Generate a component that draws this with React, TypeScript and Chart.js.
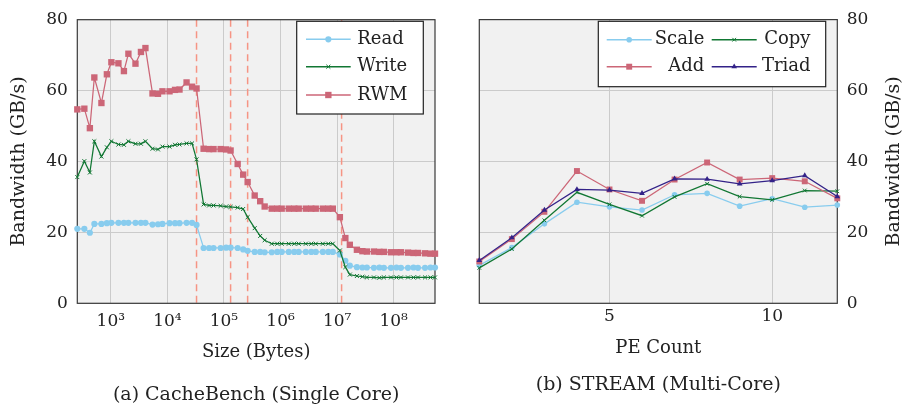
import React, { useEffect, useRef } from 'react';
import { Chart, registerables } from 'chart.js';

Chart.register(...registerables);

const FONT = "'DejaVu Serif', 'Liberation Serif', serif";
Chart.defaults.font.family = FONT;
Chart.defaults.color = '#222';

// ---------- (a) CacheBench data ----------
const sizes = [
  256, 341, 427, 512, 683, 853, 1024, 1365, 1707, 2048, 2731, 3413,
  4096, 5461, 6827, 8192, 10923, 13653, 16384, 21845, 27307, 32768, 43691, 54613,
  65536, 87381, 109227, 131072, 174763, 218453, 262144, 349525, 436907, 524288, 699051, 873813,
  1048576, 1398101, 1747627, 2097152, 2796203, 3495253, 4194304, 5592405, 6990507,
  8388608, 11184811, 13981013, 16777216, 22369621, 27962027, 33554432, 44739243, 55924053,
  67108864, 89478485, 111848107, 134217728, 178956971, 223696213, 268435456, 357913941, 447392427,
  536870912,
];
const readBW = [
  21.0, 21.0, 19.9, 22.4, 22.4, 22.6, 22.7, 22.7, 22.7, 22.7, 22.7, 22.7,
  22.7, 22.2, 22.3, 22.4, 22.6, 22.6, 22.6, 22.7, 22.7, 22.1, 15.6, 15.6,
  15.6, 15.6, 15.7, 15.7, 15.6, 15.2, 14.8, 14.5, 14.5, 14.4, 14.4, 14.5,
  14.5, 14.5, 14.5, 14.5, 14.5, 14.5, 14.5, 14.5, 14.5,
  14.5, 13.8, 12.0, 10.6, 10.2, 10.1, 10.1, 10.0, 10.1,
  10.0, 10.0, 10.1, 10.0, 10.0, 10.1, 10.0, 10.0, 10.1,
  10.1,
];
const writeBW = [
  35.6, 40.1, 36.9, 45.7, 41.4, 44.0, 45.7, 44.8, 44.7, 45.7, 45.0, 45.0,
  45.7, 43.6, 43.4, 44.2, 44.2, 44.7, 44.8, 45.1, 45.1, 40.6, 27.9, 27.6,
  27.6, 27.5, 27.3, 27.2, 27.0, 26.6, 24.3, 21.2, 19.0, 17.8, 16.8, 16.8,
  16.8, 16.8, 16.8, 16.8, 16.8, 16.8, 16.8, 16.8, 16.8,
  16.8, 14.9, 10.2, 8.1, 7.7, 7.5, 7.3, 7.3, 7.2,
  7.3, 7.3, 7.3, 7.3, 7.3, 7.3, 7.3, 7.3, 7.3,
  7.3,
];
const rwmBW = [
  54.7, 54.9, 49.4, 63.7, 56.5, 64.6, 68.0, 67.7, 65.5, 70.4, 67.6, 70.9,
  72.0, 59.2, 59.1, 59.8, 59.8, 60.2, 60.3, 62.3, 61.1, 60.6, 43.6, 43.5,
  43.5, 43.5, 43.4, 43.1, 39.3, 36.3, 34.2, 30.4, 28.8, 27.3, 26.7, 26.7,
  26.7, 26.7, 26.7, 26.7, 26.7, 26.7, 26.7, 26.7, 26.7,
  26.7, 24.3, 18.4, 16.5, 15.1, 14.7, 14.6, 14.6, 14.5,
  14.5, 14.4, 14.4, 14.4, 14.3, 14.2, 14.2, 14.1, 14.0,
  14.0,
];
const cacheBoundaries = [32768, 131072, 262144, 12000000];
const sizeTickValues = [1e3, 1e4, 1e5, 1e6, 1e7, 1e8];
const sizeTickLabels = ['10³', '10⁴', '10⁵', '10⁶', '10⁷', '10⁸'];
const bwTickValues = [0, 20, 40, 60, 80];

// ---------- (b) STREAM data ----------
const peCounts = [1, 2, 3, 4, 5, 6, 7, 8, 9, 10, 11, 12];
const scaleBW = [10.7, 15.7, 22.4, 28.5, 27.2, 26.3, 30.6, 31.0, 27.4, 29.5, 27.1, 27.7];
const copyBW = [10.0, 15.3, 23.4, 31.3, 27.9, 24.7, 30.0, 33.7, 30.1, 29.2, 31.8, 31.6];
const addBW = [11.8, 18.1, 25.8, 37.3, 32.1, 28.9, 34.9, 39.7, 34.9, 35.3, 34.4, 29.6];
const triadBW = [12.1, 18.5, 26.3, 32.1, 31.9, 31.0, 35.1, 35.0, 33.7, 34.6, 36.0, 30.1];
const peTickValues = [5, 10];
const peTickLabels = ['5', '10'];

const BLUE = '#88ccee';
const GREEN = '#117733';
const PINK = '#cc6677';
const NAVY = '#332288';
const GRID = '#cbcbcb';
const TEXT = '#222';

function drawMarker(ctx: CanvasRenderingContext2D, style: string, x: number, y: number, r: number, color: string) {
  ctx.save();
  ctx.fillStyle = color;
  ctx.strokeStyle = color;
  ctx.lineWidth = 1;
  ctx.beginPath();
  if (style === 'circle') {
    ctx.arc(x, y, r, 0, Math.PI * 2);
    ctx.fill();
  } else if (style === 'rect') {
    const s = r * Math.SQRT1_2;
    ctx.fillRect(x - s, y - s, 2 * s, 2 * s);
  } else if (style === 'crossRot') {
    const d = r * Math.SQRT1_2;
    ctx.moveTo(x - d, y - d);
    ctx.lineTo(x + d, y + d);
    ctx.moveTo(x - d, y + d);
    ctx.lineTo(x + d, y - d);
    ctx.stroke();
  } else if (style === 'triangle') {
    let a = 0;
    ctx.moveTo(x + Math.sin(a) * r, y - Math.cos(a) * r);
    a += (2 * Math.PI) / 3;
    ctx.lineTo(x + Math.sin(a) * r, y - Math.cos(a) * r);
    a += (2 * Math.PI) / 3;
    ctx.lineTo(x + Math.sin(a) * r, y - Math.cos(a) * r);
    ctx.closePath();
    ctx.fill();
  }
  ctx.restore();
}

type LegendCfg = {
  x: number; y: number; w: number; h: number;
  rows: number[];
  cols: { x0: number; x1: number; tx: number; align: CanvasTextAlign }[];
  items: { index: number; col: number; row: number }[];
};

type DecorCfg = {
  vlines?: number[];
  caption: string;
  captionY: number;
  rightTitle?: { text: string; x: number };
  legend: LegendCfg;
};

function makeDecor(cfg: DecorCfg) {
  return {
    id: 'decor',
    beforeDraw(chart: any) {
      const { ctx, chartArea: a } = chart;
      ctx.save();
      ctx.fillStyle = '#f1f1f1';
      ctx.fillRect(a.left, a.top, a.right - a.left, a.bottom - a.top);
      ctx.restore();
    },
    beforeDatasetsDraw(chart: any) {
      const { ctx, chartArea: a } = chart;
      if (cfg.vlines) {
        const xs = chart.scales.x;
        ctx.save();
        ctx.beginPath();
        ctx.rect(a.left, a.top, a.right - a.left, a.bottom - a.top);
        ctx.clip();
        ctx.strokeStyle = '#f69484';
        ctx.lineWidth = 1.5;
        ctx.setLineDash([7, 4.5]);
        for (const v of cfg.vlines) {
          const px = xs.getPixelForValue(v);
          ctx.beginPath();
          ctx.moveTo(px, a.top);
          ctx.lineTo(px, a.bottom);
          ctx.stroke();
        }
        ctx.restore();
      }
      ctx.save();
      ctx.strokeStyle = '#3a3a3a';
      ctx.lineWidth = 1.2;
      ctx.strokeRect(a.left, a.top, a.right - a.left, a.bottom - a.top);
      ctx.restore();
    },
    afterDraw(chart: any) {
      const { ctx, chartArea: a } = chart;
      const lg = cfg.legend;
      ctx.save();
      ctx.fillStyle = '#ffffff';
      ctx.fillRect(lg.x, lg.y, lg.w, lg.h);
      ctx.strokeStyle = '#222';
      ctx.lineWidth = 1.2;
      ctx.strokeRect(lg.x, lg.y, lg.w, lg.h);
      ctx.font = `18px ${FONT}`;
      ctx.textBaseline = 'middle';
      for (const it of lg.items) {
        const ds = chart.data.datasets[it.index];
        const c = lg.cols[it.col];
        const y = lg.rows[it.row];
        ctx.strokeStyle = ds.borderColor;
        ctx.lineWidth = 1.4;
        ctx.beginPath();
        ctx.moveTo(c.x0, y);
        ctx.lineTo(c.x1, y);
        ctx.stroke();
        drawMarker(ctx, ds.pointStyle, (c.x0 + c.x1) / 2, y, ds.pointRadius, ds.borderColor);
        ctx.fillStyle = TEXT;
        ctx.textAlign = c.align;
        ctx.fillText(ds.label, c.tx, y);
      }
      ctx.font = `19px ${FONT}`;
      ctx.textAlign = 'center';
      ctx.textBaseline = 'middle';
      ctx.fillStyle = TEXT;
      ctx.fillText(cfg.caption, (a.left + a.right) / 2, cfg.captionY);
      if (cfg.rightTitle) {
        ctx.translate(cfg.rightTitle.x, (a.top + a.bottom) / 2);
        ctx.rotate(-Math.PI / 2);
        ctx.fillText(cfg.rightTitle.text, 0, 0);
      }
      ctx.restore();
    },
  };
}

function series(label: string, xs: number[], ys: number[], color: string, style: string, radius: number, order: number) {
  return {
    label,
    data: xs.map((x, i) => ({ x, y: ys[i] })),
    borderColor: color,
    backgroundColor: color,
    pointBackgroundColor: color,
    pointBorderColor: color,
    pointBorderWidth: style === 'crossRot' ? 1 : 0,
    pointStyle: style,
    pointRadius: radius,
    borderWidth: 1.25,
    order,
    clip: false,
  };
}

function leftConfig(): any {
  return {
    type: 'line',
    data: {
      datasets: [
        series('Read', sizes, readBW, BLUE, 'circle', 3.1, 2),
        series('Write', sizes, writeBW, GREEN, 'crossRot', 2.8, 1),
        series('RWM', sizes, rwmBW, PINK, 'rect', 4.5, 0),
      ],
    },
    options: {
      responsive: false,
      animation: false,
      events: [],
      layout: { padding: { left: 0, top: 11.7, right: 17, bottom: 0 } },
      plugins: { legend: { display: false }, tooltip: { enabled: false }, title: { display: false } },
      scales: {
        x: {
          type: 'logarithmic',
          min: 256,
          max: 536870912,
          afterBuildTicks: (s: any) => { s.ticks = sizeTickValues.map((v) => ({ value: v })); },
          afterFit: (s: any) => { s.height = 104.7; },
          ticks: {
            callback: (_v: any, i: number) => sizeTickLabels[i],
            font: { size: 17 },
            color: TEXT,
            padding: 8.3,
            maxRotation: 0,
            autoSkip: false,
          },
          grid: { color: GRID, lineWidth: 1, drawTicks: false },
          border: { display: false },
          title: { display: true, text: 'Size (Bytes)', font: { size: 18 }, color: TEXT, padding: { top: 0, bottom: 44.7 } },
        },
        y: {
          type: 'linear',
          min: 0,
          max: 80,
          afterBuildTicks: (s: any) => { s.ticks = bwTickValues.map((v) => ({ value: v })); },
          afterFit: (s: any) => { s.width = 77.3; },
          ticks: { font: { size: 17 }, color: TEXT, padding: 9.5 },
          grid: { color: GRID, lineWidth: 1, drawTicks: false },
          border: { display: false },
          title: { display: true, text: 'Bandwidth (GB/s)', font: { size: 19 }, color: TEXT, padding: { top: 8, bottom: 0 } },
        },
      },
    },
    plugins: [
      makeDecor({
        vlines: cacheBoundaries,
        caption: '(a) CacheBench (Single Core)',
        captionY: 394.6,
        legend: {
          x: 296.7, y: 21.3, w: 126.6, h: 92.7,
          rows: [39.3, 66.7, 95],
          cols: [{ x0: 306, x1: 350.7, tx: 357.3, align: 'left' }],
          items: [
            { index: 0, col: 0, row: 0 },
            { index: 1, col: 0, row: 1 },
            { index: 2, col: 0, row: 2 },
          ],
        },
      }),
    ],
  };
}

function rightConfig(): any {
  return {
    type: 'line',
    data: {
      datasets: [
        series('Scale', peCounts, scaleBW, BLUE, 'circle', 2.8, 3),
        series('Copy', peCounts, copyBW, GREEN, 'crossRot', 2.6, 2),
        series('Add', peCounts, addBW, PINK, 'rect', 4.2, 1),
        series('Triad', peCounts, triadBW, NAVY, 'triangle', 3.3, 0),
      ],
    },
    options: {
      responsive: false,
      animation: false,
      events: [],
      layout: { padding: { left: 27.3, top: 11.7, right: 0, bottom: 0 } },
      plugins: { legend: { display: false }, tooltip: { enabled: false }, title: { display: false } },
      scales: {
        x: {
          type: 'linear',
          min: 1,
          max: 12,
          afterBuildTicks: (s: any) => { s.ticks = peTickValues.map((v) => ({ value: v })); },
          afterFit: (s: any) => { s.height = 104.7; },
          ticks: {
            callback: (_v: any, i: number) => peTickLabels[i],
            font: { size: 17 },
            color: TEXT,
            padding: 3.3,
            maxRotation: 0,
            autoSkip: false,
          },
          grid: { color: GRID, lineWidth: 1, drawTicks: false },
          border: { display: false },
          title: { display: true, text: 'PE Count', font: { size: 18 }, color: TEXT, padding: { top: 0, bottom: 49.2 } },
        },
        y: {
          type: 'linear',
          position: 'right',
          min: 0,
          max: 80,
          afterBuildTicks: (s: any) => { s.ticks = bwTickValues.map((v) => ({ value: v })); },
          afterFit: (s: any) => { s.width = 66.7; },
          ticks: { font: { size: 17 }, color: TEXT, padding: 9.4 },
          grid: { color: GRID, lineWidth: 1, drawTicks: false },
          border: { display: false },
          title: { display: false },
        },
      },
    },
    plugins: [
      makeDecor({
        caption: '(b) STREAM (Multi-Core)',
        captionY: 385,
        rightTitle: { text: 'Bandwidth (GB/s)', x: 442 },
        legend: {
          x: 146.3, y: 21.3, w: 227.4, h: 65.4,
          rows: [39.7, 66.7],
          cols: [
            { x0: 154.7, x1: 199.7, tx: 252.3, align: 'right' },
            { x0: 259.7, x1: 304.7, tx: 358.5, align: 'right' },
          ],
          items: [
            { index: 0, col: 0, row: 0 },
            { index: 1, col: 1, row: 0 },
            { index: 2, col: 0, row: 1 },
            { index: 3, col: 1, row: 1 },
          ],
        },
      }),
    ],
  };
}

function ChartCanvas({ make, left }: { make: () => any; left: number }) {
  const ref = useRef<HTMLCanvasElement | null>(null);
  useEffect(() => {
    if (!ref.current) return;
    const chart = new Chart(ref.current, make());
    return () => chart.destroy();
  }, [make]);
  return (
    <canvas
      ref={ref}
      width={452}
      height={408}
      style={{ position: 'absolute', left, top: 0, width: 452, height: 408, display: 'block' }}
    />
  );
}

export default function App() {
  return (
    <div style={{ position: 'fixed', left: 0, top: 0, width: 904, height: 408, background: '#fff', overflow: 'hidden' }}>
      <ChartCanvas make={leftConfig} left={0} />
      <ChartCanvas make={rightConfig} left={452} />
    </div>
  );
}
